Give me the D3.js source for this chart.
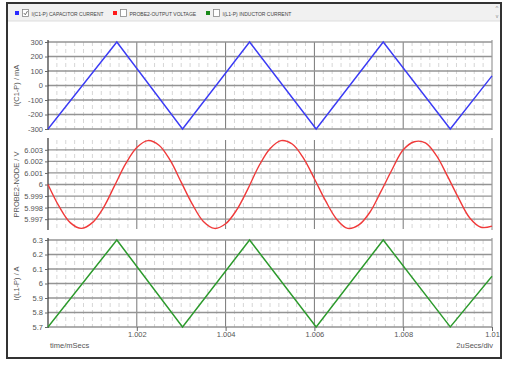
<!DOCTYPE html>
<html>
<head>
<meta charset="utf-8">
<script src="https://cdn.jsdelivr.net/npm/d3@7/dist/d3.min.js"></script>
<style>
  body { margin: 0; background: #fff; }
  svg { display: block; font-family: "Liberation Sans", Arial, sans-serif; }
</style>
</head>
<body>
<div id="chart"></div>
<script>
// series data
var triTimes = [1.000, 1.00155, 1.00303, 1.00454, 1.00604, 1.00755, 1.00906, 1.010];
var capCurrent = [-300, 300, -300, 300, -300, 300, -300, 66];
var indCurrent = [5.7, 6.3, 5.7, 6.3, 5.7, 6.3, 5.7, 6.05];

var voltTimes = [1.000, 1.00025, 1.0005, 1.00075, 1.001, 1.00125, 1.0015, 1.00175, 1.002, 1.00225,
  1.0025, 1.00275, 1.003, 1.00325, 1.0035, 1.00375, 1.004, 1.00425, 1.0045, 1.00475,
  1.005, 1.00525, 1.0055, 1.00575, 1.006, 1.00625, 1.0065, 1.00675, 1.007, 1.00725,
  1.0075, 1.00775, 1.008, 1.00825, 1.0085, 1.00875, 1.009, 1.00925, 1.0095, 1.00975, 1.010];
var outVoltage = [6.0000, 5.9981, 5.9967, 5.9962, 5.9967, 5.9980, 5.9999, 6.0018, 6.0032, 6.0038,
  6.0034, 6.0021, 6.0002, 5.9983, 5.9968, 5.9962, 5.9966, 5.9978, 5.9996, 6.0016,
  6.0031, 6.0038, 6.0035, 6.0023, 6.0005, 5.9986, 5.9970, 5.9962, 5.9965, 5.9976,
  5.9994, 6.0013, 6.0030, 6.0037, 6.0036, 6.0025, 6.0007, 5.9988, 5.9971, 5.9963, 5.9964];

var timeTicks = [1.002, 1.004, 1.006, 1.008, 1.01];
var capTicks = [300, 200, 100, 0, -100, -200, -300];
var voltTicks = [6.003, 6.002, 6.001, 6, 5.999, 5.998, 5.997];
var indTicks = [6.3, 6.2, 6.1, 6, 5.9, 5.8, 5.7];

var legendNames = ["I(C1-P) CAPACITOR CURRENT", "PROBE2-OUTPUT VOLTAGE", "I(L1-P) INDUCTOR CURRENT"];
var legendColors = ["#2a2aff", "#ff1a1a", "#1a8a1a"];

var width = 509, height = 365;
var left = 48, right = 492;

var svg = d3.select("#chart").append("svg")
  .attr("width", width)
  .attr("height", height);

// outer frame + legend strip
svg.append("rect").attr("x", 7).attr("y", 3).attr("width", 494).attr("height", 355)
  .attr("fill", "#fff").attr("stroke", "#333").attr("stroke-width", 2);
svg.append("rect").attr("x", 8).attr("y", 4).attr("width", 492).attr("height", 17)
  .attr("fill", "#f1f1f1");
svg.append("line").attr("x1", 8).attr("x2", 500).attr("y1", 21).attr("y2", 21)
  .attr("stroke", "#ddd");

var legendX = [15, 113, 206];
legendNames.forEach(function(name, i) {
  var g = svg.append("g").attr("transform", "translate(" + legendX[i] + ",0)");
  g.append("rect").attr("x", 0).attr("y", 11).attr("width", 4).attr("height", 4)
    .attr("fill", legendColors[i]);
  g.append("rect").attr("x", 7.5).attr("y", 9.5).attr("width", 6).attr("height", 7)
    .attr("fill", "#fff").attr("stroke", "#888").attr("stroke-width", 0.8);
  if (i == 0) {
    g.append("path").attr("d", "M8.8,13 L10.3,14.8 L12.5,11").attr("fill", "none")
      .attr("stroke", "#555").attr("stroke-width", 0.8);
  }
  g.append("text").attr("x", 16.5).attr("y", 15.5)
    .attr("font-size", 5).attr("fill", "#444").text(name);
});
svg.append("text").attr("x", 497).attr("y", 10).attr("text-anchor", "middle")
  .attr("font-size", 6).attr("fill", "#888").text("^");
svg.append("text").attr("x", 497).attr("y", 18).attr("text-anchor", "middle")
  .attr("font-size", 5).attr("fill", "#888").text("v");

var x = d3.scaleLinear().domain([1.000, 1.010]).range([left, right]);

var panels = [
  { label: "I(C1-P) / mA", top: 42, bottom: 129, domain: [-300, 300], ticks: capTicks,
    times: triTimes, values: capCurrent, color: "#3b3bf5", curve: d3.curveLinear },
  { label: "PROBE2-NODE / V", top: 140, bottom: 229, domain: [5.99615, 6.00385], ticks: voltTicks,
    times: voltTimes, values: outVoltage, color: "#f03a3a", curve: d3.curveCatmullRom },
  { label: "I(L1-P) / A", top: 240, bottom: 327, domain: [5.7, 6.3], ticks: indTicks,
    times: triTimes, values: indCurrent, color: "#2c9a2c", curve: d3.curveLinear }
];

var minorTicks = d3.range(1.0002, 1.0100, 0.0002).filter(function(t) {
  return Math.abs(Math.round(t * 500) - t * 500) > 0.01;
});

panels.forEach(function(p) {
  var y = d3.scaleLinear().domain(p.domain).range([p.bottom, p.top]);
  var g = svg.append("g");

  // minor vertical grid
  g.selectAll(".minor").data(minorTicks).enter().append("line")
    .attr("x1", function(d) { return x(d); }).attr("x2", function(d) { return x(d); })
    .attr("y1", p.top).attr("y2", p.bottom)
    .attr("stroke", "#d6d6d6").attr("stroke-width", 1).attr("stroke-dasharray", "4,3");

  // major vertical grid
  g.selectAll(".major").data(timeTicks.slice(0, 4)).enter().append("line")
    .attr("x1", function(d) { return x(d); }).attr("x2", function(d) { return x(d); })
    .attr("y1", p.top).attr("y2", p.bottom)
    .attr("stroke", "#777").attr("stroke-width", 1);

  // horizontal grid
  g.selectAll(".hgrid").data(p.ticks).enter().append("line")
    .attr("x1", left).attr("x2", right)
    .attr("y1", function(d) { return y(d); }).attr("y2", function(d) { return y(d); })
    .attr("stroke", "#949494").attr("stroke-width", 1.3);

  // right edge
  g.append("line").attr("x1", right).attr("x2", right).attr("y1", p.top - 2).attr("y2", p.bottom + 1)
    .attr("stroke", "#999").attr("stroke-width", 1.2);

  // left axis
  var yAxis = d3.axisLeft(y).tickValues(p.ticks).tickSize(3).tickPadding(2)
    .tickFormat(function(d) { return String(d); });
  var ag = svg.append("g").attr("transform", "translate(" + left + ",0)").call(yAxis);
  ag.select(".domain").attr("d", "M0," + (p.top - 2) + "V" + (p.bottom + 1))
    .attr("stroke", "#333").attr("stroke-width", 1.2);
  ag.selectAll(".tick line").attr("stroke", "#666");
  ag.selectAll(".tick text").attr("font-size", 7.5).attr("fill", "#555")
    .attr("font-family", "Liberation Sans, Arial, sans-serif");

  svg.append("text")
    .attr("transform", "translate(19," + ((p.top + p.bottom) / 2) + ") rotate(-90)")
    .attr("text-anchor", "middle").attr("font-size", 7.5).attr("fill", "#555")
    .text(p.label);

  var pts = p.times.map(function(t, i) { return [t, p.values[i]]; });
  var line = d3.line()
    .x(function(d) { return x(d[0]); })
    .y(function(d) { return y(d[1]); })
    .curve(p.curve);
  svg.append("path").datum(pts).attr("d", line)
    .attr("fill", "none").attr("stroke", p.color).attr("stroke-width", 1.4);
});

// time axis
var xAxis = d3.axisBottom(x).tickValues(timeTicks).tickSize(4).tickPadding(1)
  .tickFormat(function(d) { return String(+d.toFixed(3)); });
var xg = svg.append("g").attr("transform", "translate(0,327)").call(xAxis);
xg.select(".domain").remove();
xg.selectAll(".tick line").attr("stroke", "#666");
xg.selectAll(".tick text").attr("font-size", 7.5).attr("fill", "#555")
  .attr("font-family", "Liberation Sans, Arial, sans-serif");

svg.append("text").attr("x", 50).attr("y", 348).attr("font-size", 7.5).attr("fill", "#555")
  .text("time/mSecs");
svg.append("text").attr("x", 493).attr("y", 348).attr("text-anchor", "end")
  .attr("font-size", 7.5).attr("fill", "#555").text("2uSecs/div");
</script>
</body>
</html>
